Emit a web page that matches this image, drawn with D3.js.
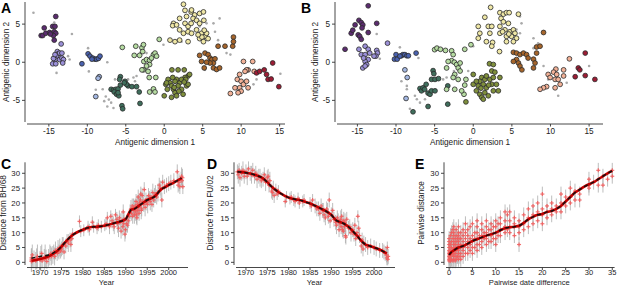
<!DOCTYPE html>
<html><head><meta charset="utf-8">
<script src="https://cdn.jsdelivr.net/npm/d3@7"></script>
<style>
html,body{margin:0;padding:0;background:#fff;}
svg{display:block;font-family:"Liberation Sans",Arial,Helvetica,sans-serif;}
</style></head>
<body><svg id="c" width="617" height="287"></svg>
<script>
// ---------- Panel A data (antigenic map, clusters) ----------
const A_purple = [[-15.6,4.5],[-16.0,3.5],[-15.8,3.5],[-15.4,3.8],[-14.9,3.9],[-14.5,4.7],[-14.2,4.7],[-14.1,6.0],[-14.3,4.0],[-14.1,3.8],[-14.4,3.5],[-14.3,2.9],[-14.8,3.7]];
const A_lavender = [[-13.4,2.4],[-13.9,1.4],[-13.8,1.1],[-14.0,0.8],[-14.2,0.35],[-14.4,0.5],[-14.5,-0.2],[-14.1,-0.2],[-13.6,0.35],[-13.3,0.55],[-13.1,0.35],[-13.2,-0.1],[-13.6,1.2],[-13.3,1.2],[-14.2,1.0]];
const A_blue = [[-10.7,-0.2],[-9.9,1.1],[-9.65,0.8],[-9.3,0.55],[-9.0,0.4],[-8.8,0.4],[-8.55,0.5],[-8.35,0.8],[-9.4,0.4]];
const A_lightblue = [[-8.45,-1.9],[-8.6,-2.1],[-8.9,-4.5]];
const A_teal = [[-5.7,-1.9],[-5.8,-2.25],[-6.9,-3.55],[-6.6,-3.65],[-6.3,-3.55],[-6.0,-3.5],[-6.5,-3.9],[-6.2,-4.2],[-5.9,-4.4],[-6.0,-4.0],[-5.1,-2.5],[-4.7,-3.1],[-4.9,-2.9],[-4.2,-3.2],[-3.6,-3.2],[-3.25,-3.9],[-3.15,-5.4],[-5.5,-5.7],[-5.4,-6.1],[-5.2,-2.7],[-5.7,-3.0]];
const A_lightgreen = [[-5.45,1.95],[-3.7,2.1],[-3.9,0.9],[-2.9,1.9],[-2.7,2.3],[-2.8,1.4],[-3.2,0.9],[-2.65,0.1],[-2.3,0.35],[-1.9,0.25],[-1.4,1.0],[-1.2,1.2],[-1.0,0.8],[-1.65,0.55],[-1.9,-0.3],[-2.3,-0.5],[-2.7,-1.0],[-2.1,-1.2],[-1.1,-2.0],[-1.4,-3.5],[-1.2,-3.9],[-1.9,-3.9],[-1.95,-2.0],[-0.65,3.0],[-2.9,-1.0]];
const A_olive = [[0.0,-4.4],[1.0,-1.0],[1.8,-1.0],[2.6,-1.0],[0.5,-2.25],[0.75,-2.7],[0.2,-2.9],[0.95,-3.1],[1.2,-3.55],[1.4,-4.0],[0.95,-4.6],[1.6,-4.4],[2.0,-2.7],[2.25,-3.55],[2.45,-4.2],[2.9,-3.1],[3.1,-1.8],[3.3,-1.6],[2.7,-2.0],[1.6,-2.25],[1.4,-2.5],[1.8,-3.1],[2.25,-2.25],[2.8,-2.25],[3.1,-2.9],[0.4,-3.55],[0.3,-2.7],[1.1,-2.0],[1.9,-3.8],[2.6,-2.6],[1.3,-3.3]];
const A_yellow = [[2.5,7.6],[2.7,6.8],[3.5,6.6],[3.95,6.2],[4.6,6.4],[5.1,6.6],[3.75,5.75],[2.9,6.0],[2.0,5.75],[1.2,5.1],[1.1,4.8],[1.6,4.9],[2.7,5.1],[3.1,4.7],[3.5,5.1],[4.2,5.5],[4.6,5.1],[5.15,5.5],[2.0,4.25],[2.5,3.8],[3.1,4.0],[3.55,3.8],[4.2,4.25],[4.85,3.8],[5.3,3.4],[4.6,3.1],[5.1,2.7],[5.5,3.8],[5.7,3.1],[0.75,2.9],[1.4,2.7],[2.0,2.9],[3.1,2.7],[3.55,6.85],[4.9,3.3],[5.2,4.2],[4.4,3.6]];
const A_brown = [[4.6,0.9],[4.85,0.1],[5.3,1.2],[5.7,1.0],[5.95,0.55],[6.2,0.35],[6.4,-0.1],[5.95,-0.1],[5.5,0.0],[6.4,-0.75],[6.8,-0.95],[7.2,-0.75],[5.2,-0.75],[7.0,2.1],[7.9,2.1],[8.9,2.1],[9.0,3.3],[9.0,2.7],[6.6,0.45]];
const A_peach = [[10.3,0.1],[10.9,-1.0],[10.7,-1.0],[10.5,-1.2],[11.7,-1.2],[11.5,0.1],[9.8,-1.6],[9.5,-2.25],[10.0,-2.5],[10.3,-2.9],[9.8,-3.35],[10.0,-3.8],[9.6,-4.0],[8.6,-4.1],[10.7,-2.5],[10.9,-3.35],[9.2,-3.35]];
const A_darkred = [[12.0,-1.4],[12.4,-1.2],[13.0,-1.0],[13.5,-2.25],[14.1,-0.1],[13.9,-2.2],[14.9,-3.2],[13.3,-1.6]];
const A_grey = [[-17.0,6.5],[-14.3,5.2],[-12.0,3.7],[-12.5,0.8],[-12.3,0.35],[-14.0,-1.4],[-9.9,1.85],[-9.8,-1.2],[-7.4,0],[-8.0,-3.55],[-7.6,-4.5],[-7.2,-4.9],[-7.8,-5.1],[-7.4,-5.8],[-6.6,-6.0],[-6.4,-2.25],[-4.7,-2.25],[-4.0,-2.0],[-3.8,-2.5],[-3.6,-1.8],[-3.1,1.2],[-2.3,1.2],[-0.1,2.3],[0.9,-1.0],[2.25,2.7],[4.6,4.7],[5.5,5.1],[6.4,5.1],[7.2,5.75],[6.6,4.0],[7.0,2.9],[8.1,1.2],[8.6,1.0],[5.3,-1.0],[11.6,-2.9],[12.0,-2.25],[15.1,-1.5],[-8.9,-3.6],[-6.9,-5.3]];

// ---------- Panel B data ----------
const B_purple = [[-16.6,1.7],[-15.8,3.8],[-15.6,4.2],[-15.3,4.9],[-14.8,5.5],[-14.5,5.2],[-14.3,4.9],[-14.4,4.5],[-14.9,3.6],[-14.7,3.4],[-14.5,3.0],[-13.6,7.4],[-13.6,3.9],[-12.5,5.1]];
const B_lavender = [[-14.8,1.7],[-14.0,2.1],[-13.6,1.7],[-14.5,1.0],[-14.0,1.0],[-13.4,1.2],[-12.5,1.55],[-12.4,1.2],[-12.6,0.8],[-12.85,0.8],[-13.6,0.35],[-14.0,0.1],[-13.8,-0.3],[-14.3,-0.75],[-14.0,-0.5],[-11.1,2.5],[-14.2,0.55]];
const B_blue = [[-10.0,1.0],[-10.2,0.4],[-9.85,0.4],[-9.3,0.85],[-9.1,1.0],[-8.85,1.0],[-8.6,0.85],[-8.4,0.85],[-7.4,1.2],[-9.5,0.8]];
const B_lightblue = [[-8.85,-1.0],[-8.55,-2.0],[-8.7,-4.75]];
const B_teal = [[-7.8,-6.5],[-6.9,-3.45],[-6.7,-3.75],[-6.5,-3.35],[-6.1,-2.9],[-5.85,-4.05],[-5.6,-4.2],[-5.4,-3.75],[-5.2,-1.1],[-5.1,-1.5],[-5.4,-2.25],[-4.95,-2.25],[-5.85,-5.8],[-4.5,-2.15],[-4.95,-3.75],[-3.3,-5.5],[-3.3,-3.1],[-6.3,-3.55]];
const B_lightgreen = [[-5.0,1.65],[-4.7,1.85],[-4.25,1.7],[-3.6,1.55],[-2.8,1.5],[-2.6,1.0],[-2.8,0.2],[-2.45,0],[-2.15,-0.3],[-1.95,-0.75],[-1.7,-1.15],[-2.4,-1.6],[-2.6,-2.0],[-1.95,-2.25],[-3.25,0.1],[-3.45,-0.75],[-1.7,-0.1],[-0.95,-2.25],[-1.1,-3.0],[-1.2,-4.2],[-0.3,2.3],[-1.1,1.7],[-3.45,-3.55],[-2.4,-3.55],[-1.5,-3.75]];
const B_olive = [[-0.95,-5.2],[0,-1.6],[1.1,-2.0],[0.85,-2.5],[1.3,-2.9],[0.65,-3.1],[0.4,-3.75],[0.85,-4.2],[1.1,-4.6],[1.5,-4.0],[1.7,-3.35],[2.15,-2.25],[2.4,-2.9],[1.95,-4.4],[2.6,-3.75],[3.0,-2.9],[3.45,-2.0],[2.4,-1.15],[2.8,-1.3],[2.1,-0.2],[2.6,-0.3],[1.5,-2.25],[1.7,-1.8],[2.6,-2.0],[3.25,-3.75],[1.3,-4.85],[0,-2.9],[0.4,-2.5],[1.0,-3.4],[2.0,-3.0]];
const B_yellow = [[2.25,7.2],[3.45,6.5],[3.9,6.3],[4.3,6.5],[4.65,6.5],[5.85,6.3],[1.5,5.9],[3.6,5.75],[3.9,5.3],[4.55,5.1],[0.65,4.7],[0.85,3.8],[1.95,4.7],[2.4,4.7],[2.15,3.8],[3.45,4.7],[4.1,4.25],[4.75,4.0],[5.2,4.25],[5.4,3.8],[3.45,3.8],[4.3,3.4],[4.95,3.4],[5.6,3.15],[1.7,2.7],[2.5,2.6],[2.4,2.1],[3.4,1.4],[4.3,2.7],[5.2,2.7],[0.65,3.15],[3.8,4.0],[4.6,3.7]];
const B_brown = [[5.2,1.3],[5.6,1.2],[6.05,1.0],[6.5,1.2],[6.9,1.0],[5.6,0.35],[5.85,-0.1],[6.05,-0.5],[6.3,-1.0],[5.2,0.1],[7.8,0.4],[8.0,-0.1],[7.8,-0.75],[8.2,2.0],[8.65,2.1],[9.1,3.9],[8.2,1.2],[7.1,0.55]];
const B_peach = [[12.45,0.45],[10.7,-0.9],[11.7,-1.0],[10.4,-1.3],[9.7,-1.6],[10.8,-1.6],[9.95,-2.0],[10.6,-2.25],[11.0,-2.25],[11.25,-2.9],[10.6,-3.35],[9.5,-3.2],[9.1,-3.35],[8.65,-3.55],[11.7,-1.8]];
const B_darkred = [[14.5,1.2],[13.6,-0.75],[13.8,-1.0],[13.2,-1.9],[14.5,-1.75],[15.75,-2.25]];
const B_grey = [[-12.5,3.7],[-12.1,0.45],[-9.5,1.95],[-7.1,0.55],[-8.6,-3.1],[-8.6,-3.55],[-7.55,-4.4],[-7.3,-4.85],[-8.2,-6.1],[-6.9,-5.3],[-6.25,-4.85],[-3.9,-2.25],[-3.45,-2.0],[-2.5,-1.15],[-0.65,-1.15],[0,2.1],[6.05,6.0],[6.25,5.1],[5.6,4.3],[6.05,3.8],[7.8,3.15],[8.4,2.5],[7.8,1.85],[9.7,-2.25],[11.0,-4.4],[12.1,-2.7],[15.0,-0.5],[9.1,-0.5],[-9.3,-2.5]];

const clusterColors = ["#5b2c6f","#9b90d8","#4a62b0","#a3b7e2","#3f6e5c","#b6dca2","#7f8f3c","#efe7a6","#a6652b","#f2b197","#9c1c34"];

// ---------- Panel C data: [year, distance, half error] ----------
const C_points = [[1968,0.3,3.5],[1968,0.8,4],[1968,1.5,3],[1968.2,2.5,3.5],[1968.3,0.5,2.5],[1968.6,1.0,3],[1969,0.5,3],[1969.2,1.2,3.5],[1969.4,2.0,4],[1970,0.8,3],[1970.2,1.5,4],[1970.4,3.0,3],[1970.5,0.5,2.5],[1971,1.0,3.5],[1971.2,2.0,4],[1971.4,1.3,3],[1971.6,0.3,2.5],[1972,1.5,3],[1972.3,2.5,3.5],[1972.5,3.0,2.5],[1972.7,2.0,3],[1973,2.5,3],[1973.2,3.5,2.5],[1973.4,2.0,3],[1973.6,4.0,3],[1974,3.0,2.5],[1974.2,4.5,3],[1974.4,3.5,2.5],[1974.6,5.0,3],[1974.8,3.8,2.5],[1975,4.5,2.5],[1975.2,5.5,3],[1975.4,6.0,2.5],[1975.6,3.5,2.5],[1976,5.5,2.5],[1976.3,7.0,2.5],[1976.6,6.5,3],[1977,7.5,2.5],[1977.2,6.0,2.5],[1977.4,8.0,2],[1977.6,9.5,2],[1979.2,13.8,2],[1979.5,10.5,2],[1980.2,10.8,2],[1981.2,12.0,2],[1981.5,11.0,2],[1982.2,13.5,2],[1982.5,12.0,2],[1983.3,11.5,2],[1983.6,12.5,2],[1984.3,12.0,2],[1985.1,12.5,2],[1985.4,13.0,2],[1985.7,15.0,2],[1986.2,12.0,2.5],[1986.5,15.5,2],[1986.8,14.0,2.5],[1987.1,13.0,2.5],[1987.3,12.0,2.5],[1987.6,16.0,2],[1987.9,14.5,2.5],[1988.1,13.0,3],[1988.3,11.5,3],[1988.5,15.0,2.5],[1988.7,13.5,3],[1988.9,10.5,2.5],[1989.1,14.0,3],[1989.3,12.0,3],[1989.4,17.0,2.5],[1989.5,13.0,3],[1989.6,14.5,2.5],[1989.8,9.5,2.5],[1989.9,11.0,3],[1990.2,13.0,3],[1990.4,12.5,2.5],[1990.6,14.0,2.5],[1990.8,15.5,2.5],[1991,17.0,2.5],[1991.2,18.0,3],[1991.3,16.5,2.5],[1991.5,19.0,2.5],[1991.6,15.5,2.5],[1991.8,18.5,3],[1991.9,17.5,2.5],[1992,16.0,3],[1992.1,18.0,3],[1992.2,19.0,2.5],[1992.3,17.0,3],[1992.4,20.5,2.5],[1992.5,16.0,3],[1992.6,15.0,2.5],[1992.7,19.5,3],[1992.8,17.5,2.5],[1992.9,22.0,2.5],[1993,18.5,3],[1993.1,16.5,2.5],[1993.2,20.0,3],[1993.3,19.0,2.5],[1993.4,21.0,3],[1993.5,23.0,2.5],[1993.6,17.5,3],[1993.7,18.0,2.5],[1993.8,22.5,2.5],[1994,20.5,3],[1994.2,19.5,2.5],[1994.3,24.5,2.5],[1994.5,18.5,3],[1994.7,21.0,2.5],[1994.9,20.0,2.5],[1995.1,19.5,3],[1995.3,22.5,2.5],[1995.5,21.5,2.5],[1995.7,20.5,3],[1995.9,22.0,2.5],[1996.1,19.5,2.5],[1996.3,23.5,3],[1996.5,21.0,2.5],[1996.7,22.5,2.5],[1996.9,23.0,3],[1997.2,22.0,2.5],[1997.5,23.5,3],[1997.8,26.0,2.5],[1998,25.0,2.5],[1998.2,24.5,3],[1998.4,21.0,2.5],[1998.6,27.0,2.5],[1999,25.5,2.5],[1999.5,26.0,2.5],[2000,26.5,2.5],[2000.5,27.0,2.5],[2001.2,27.5,2.5],[2002,30.5,2.5],[2002.2,26.0,2.5],[2002.4,27.0,3],[2002.6,25.5,2.5],[2002.9,28.0,2.5],[2003,29.0,3],[2003.1,27.5,2.5],[2003.2,28.5,3],[2003.3,25.5,2.5]];
const C_lineRed = [[1968,0.5],[1969,0.8],[1970,1.1],[1971,1.5],[1972,2.0],[1973,2.8],[1974,3.8],[1975,5.3],[1976,7.0],[1977,8.5],[1978,9.6],[1979,10.4],[1980,11.0],[1981,11.6],[1982,11.9],[1983,12.0],[1984,12.1],[1985,12.3],[1986,12.7],[1987,13.1],[1988,13.5],[1989,13.9],[1990,14.6],[1990.7,16.5],[1991.3,17.8],[1992,18.0],[1993,19.0],[1994,20.0],[1995,21.0],[1996,21.6],[1997,22.5],[1998,24.3],[1999,25.2],[2000,26.0],[2001,26.7],[2002,27.5],[2003,28.4]];
const C_lineBlack = [[1968,1.4],[1969,1.7],[1970,2.0],[1971,2.2],[1972,2.5],[1973,3.1],[1974,4.0],[1975,5.3],[1976,7.0],[1977,8.5],[1978,9.6],[1979,10.4],[1980,11.0],[1981,11.6],[1982,11.9],[1983,12.0],[1984,12.1],[1985,12.3],[1986,12.7],[1987,13.1],[1988,13.5],[1989,13.9],[1990,14.6],[1990.7,16.5],[1991.3,17.8],[1992,18.0],[1993,19.0],[1994,20.0],[1995,21.0],[1996,21.6],[1997,22.5],[1998,24.3],[1999,25.2],[2000,26.0],[2001,26.7],[2002,27.5],[2003,28.4]];

// ---------- Panel D data ----------
const D_points = [[1968,30.5,2.5],[1968.2,29.5,3],[1968.4,31.0,2.5],[1968.6,28.5,3],[1969,30.0,2.5],[1969.3,31.0,3],[1969.6,29.0,2.5],[1970,30.5,2.5],[1970.3,29.0,3],[1970.6,31.5,2.5],[1971,30.0,2.5],[1971.3,29.5,3],[1971.6,31.0,2.5],[1972,29.0,2.5],[1972.3,30.0,2.5],[1972.6,28.0,3],[1973,29.0,2.5],[1973.3,28.5,3],[1973.6,27.5,2.5],[1974,28.0,2.5],[1974.3,29.5,2.5],[1974.6,27.0,3],[1975,28.5,2.5],[1975.2,29.0,2.5],[1975.4,26.0,2.5],[1975.6,27.5,3],[1976,24.0,2.5],[1976.2,23.5,2.5],[1976.4,25.0,2.5],[1976.6,22.5,2.5],[1977,24.5,2],[1977.3,23.0,2],[1977.6,24.0,2],[1979.2,20.5,2],[1979.5,22.0,2],[1980.3,21.5,2],[1980.6,22.0,2],[1981.2,21.0,2],[1981.5,20.5,2],[1982.2,21.5,2],[1982.5,20.0,2],[1983.3,20.5,2],[1983.6,21.0,2],[1985,20.0,2],[1985.3,19.0,2],[1985.6,21.0,2],[1986.2,19.0,2.5],[1986.6,18.0,2.5],[1987,18.0,2.5],[1987.3,16.5,2.5],[1987.6,19.0,2.5],[1987.9,17.5,2.5],[1988.1,17.5,2.5],[1988.3,16.0,2.5],[1988.6,15.0,2.5],[1988.9,18.0,2.5],[1989.1,17.0,3],[1989.3,15.5,2.5],[1989.5,21.0,2.5],[1989.7,14.0,2.5],[1990,16.0,2.5],[1990.3,17.5,2.5],[1990.6,14.5,2.5],[1991,13.5,2.5],[1991.2,12.5,3],[1991.4,15.0,2.5],[1991.6,14.0,2.5],[1991.8,11.0,2.5],[1992,13.0,2.5],[1992.2,14.5,3],[1992.3,12.0,2.5],[1992.4,15.5,2.5],[1992.6,11.0,2.5],[1992.7,13.5,2.5],[1992.8,10.5,2.5],[1992.9,14.0,3],[1993.1,12.0,2.5],[1993.2,13.5,3],[1993.3,9.0,2.5],[1993.4,8.5,2.5],[1993.6,14.5,2.5],[1994,11.5,2.5],[1994.3,12.0,2.5],[1994.6,10.0,3],[1995,11.0,2.5],[1995.3,9.5,2.5],[1995.5,12.5,2.5],[1995.7,8.0,2.5],[1996,10.0,2.5],[1996.2,15.5,2],[1996.4,11.5,2.5],[1996.6,9.0,2.5],[1997,5.5,2.5],[1997.2,7.5,2.5],[1997.4,4.5,2.5],[1997.6,6.5,2.5],[1998,6.0,2.5],[1998.5,5.0,2.5],[1999.2,5.5,2.5],[2000,5.0,2.5],[2000.5,4.5,2.5],[2001.3,4.0,2.5],[2002,4.0,2.5],[2002.3,3.5,2.5],[2002.6,3.0,2.5],[2002.9,2.5,2.5],[2003,1.5,2.5],[2003.1,5.0,2],[2003.2,1.0,2],[2003.3,2.0,2.5]];
const D_line = [[1968,30.5],[1969,30.4],[1970,30.2],[1971,29.9],[1972,29.5],[1973,29.0],[1974,28.3],[1975,27.0],[1976,25.5],[1977,24.3],[1978,23.3],[1979,22.5],[1980,21.8],[1981,21.4],[1982,21.1],[1983,20.8],[1984,20.3],[1985,19.8],[1986,19.2],[1987,18.5],[1988,17.8],[1989,17.0],[1990,16.0],[1991,14.3],[1992,13.6],[1993,13.0],[1994,12.0],[1995,10.5],[1996,9.0],[1997,7.2],[1998,6.0],[1999,5.5],[2000,5.0],[2001,4.5],[2002,3.8],[2003,3.0]];

// ---------- Panel E data ----------
const E_points = [[0,0.5],[0,1],[0,2],[0,3],[0,4],[0,5],[0,6],[0,7],[0,8],[0.05,1.5],[0.05,2.5],[0.05,3.5],[0.3,0.5],[0.3,2],[0.3,4],[0.3,6],[0.3,9],[0.5,1],[0.5,3],[0.5,5],[0.5,7],[0.5,10],[0.8,0.5],[0.8,2.5],[0.8,4.5],[0.8,8],[0.8,11],[1,1],[1,2],[1,3],[1,4],[1,5],[1,6],[1,7],[1,9],[1,10],[1,12],[1.3,0.5],[1.3,3],[1.3,6],[1.3,8],[1.5,1],[1.5,2],[1.5,4],[1.5,5],[1.5,7],[1.5,9],[1.5,11],[1.8,2],[1.8,5],[1.8,8],[2,1],[2,3],[2,4],[2,6],[2,7],[2,9],[2,10],[2,12],[2.3,2],[2.3,5],[2.3,8],[2.5,1],[2.5,3],[2.5,5],[2.5,6],[2.5,8],[2.5,10],[3,2],[3,4],[3,5],[3,7],[3,9],[3,11],[3.5,3],[3.5,6],[3.5,8],[3.5,10],[3.5,13],[4,3],[4,5],[4,7],[4,9],[4,11],[4.5,4],[4.5,6],[4.5,8],[4.5,12],[5,3],[5,5],[5,7],[5,9],[5,13],[5.5,5],[5.5,8],[5.5,10],[6,4],[6,6],[6,8],[6,10],[6,12],[6,14],[6.5,6],[6.5,9],[7,5],[7,7],[7,9],[7,11],[7,13],[7.5,8],[7.5,10],[8,6],[8,8],[8,10],[8,12],[8,14],[8.5,7],[8.5,11],[9,7],[9,9],[9,11],[9,13],[9.5,8],[9.5,12],[10,6],[10,8],[10,10],[10,12],[10,14],[10.5,9],[10.5,13],[11,9],[11,11],[11,13],[11,15],[12,10],[12,12],[12,14],[12,17],[12.5,11],[12.5,16],[13,10],[13,12],[13,14],[13,17],[14,9],[14,12],[14,13],[14,15],[15,6],[15,10],[15,12],[15,14],[16,11],[16,13],[16,16],[17,12],[17,15],[17,18],[18,13],[18,16],[18,19],[19,14],[19,17],[19,20],[20,13],[20,16],[20,23],[20,18],[21,15],[21,17],[21,19],[22,16],[22,18],[22,20],[23,17],[23,19],[24,17],[24,20],[24,23],[25,19],[25,22],[26,22],[26,25],[26,20],[27,21],[27,24],[28,23],[28,21],[30,26],[30,28],[30,25],[31,27],[32,31],[32,26],[33,26],[33,29],[34,28],[35,29],[35,31]];
const E_line = [[0,2.5],[0.5,3.5],[1,4],[2,5],[3,5.5],[4,6.3],[5,7.2],[6,7.8],[7,8.4],[8,9],[9,9.5],[10,10],[11,10.8],[12,11.5],[13,11.8],[14,12],[15,12.3],[16,13.3],[17,14.5],[18,15.3],[19,16],[20,16.3],[21,17],[22,17.3],[23,18],[24,19],[25,20.5],[26,22],[27,23.5],[28,24.5],[29,25.5],[30,26.3],[31,27],[32,28],[33,29],[34,30],[35,30.8]];

const mapXTicks = [-15,-10,-5,0,5,10,15];
const mapYTicks = [-5,0,5];
const yearTicks = [1970,1975,1980,1985,1990,1995,2000];
const distTicks = [0,5,10,15,20,25,30];
const diffTicks = [0,5,10,15,20,25,30,35];

// ---------- drawing ----------
const svg = d3.select("#c");
const FONT = 8.2;

function axisLeft(g, y, ticks, x0, yTop, yBot, fs){
  g.append("line").attr("x1",x0).attr("x2",x0).attr("y1",yTop).attr("y2",yBot).attr("stroke","#333").attr("stroke-width",0.9);
  ticks.forEach(t=>{
    g.append("line").attr("x1",x0-3).attr("x2",x0).attr("y1",y(t)).attr("y2",y(t)).attr("stroke","#333").attr("stroke-width",0.9);
    g.append("text").attr("x",x0-5).attr("y",y(t)+3).attr("text-anchor","end").attr("font-size",fs).attr("fill","#222").text(t);
  });
}
function axisBottom(g, x, ticks, y0, xL, xR, lblOff, fs){
  g.append("line").attr("x1",xL).attr("x2",xR).attr("y1",y0).attr("y2",y0).attr("stroke","#333").attr("stroke-width",0.9);
  ticks.forEach(t=>{
    g.append("line").attr("x1",x(t)).attr("x2",x(t)).attr("y1",y0).attr("y2",y0+2.5).attr("stroke","#333").attr("stroke-width",0.9);
    g.append("text").attr("x",x(t)).attr("y",y0+lblOff).attr("text-anchor","middle").attr("font-size",fs).attr("fill","#222").text(t);
  });
}
function panelLabel(t,x,y){
  svg.append("text").attr("x",x).attr("y",y).attr("font-size",14).attr("font-weight","bold").attr("fill","#000").text(t);
}
function yTitle(t,x,y){
  svg.append("text").attr("transform",`translate(${x},${y}) rotate(-90)`).attr("text-anchor","middle").attr("font-size",FONT).attr("fill","#222").text(t);
}
function xTitle(t,x,y,fs){
  svg.append("text").attr("x",x).attr("y",y).attr("text-anchor","middle").attr("font-size",fs).attr("fill","#222").text(t);
}

function mapPanel(xd, xr, clusters, greys, label, lx, ytx, xtx){
  const x = d3.scaleLinear().domain(xd).range(xr);
  const y = d3.scaleLinear().domain([-8.1,7.9]).range([124,2]);
  const g = svg.append("g");
  g.selectAll(".gr").data(greys).enter().append("circle")
    .attr("cx",d=>x(d[0])).attr("cy",d=>y(d[1])).attr("r",1.3).attr("fill","#a9a9a9");
  clusters.forEach((pts,i)=>{
    g.append("g").selectAll("circle").data(pts).enter().append("circle")
      .attr("cx",d=>x(d[0])).attr("cy",d=>y(d[1])).attr("r",2.4)
      .attr("fill",clusterColors[i]).attr("stroke","#2a2a2a").attr("stroke-width",0.8);
  });
  axisLeft(g, y, mapYTicks, xr[0], 2, 122, FONT);
  axisBottom(g, x, mapXTicks, 124, xr[0]+2, xr[1], 10, FONT);
  panelLabel(label, lx, 13);
  yTitle("Antigenic dimension 2", ytx, 62);
  xTitle("Antigenic dimension 1", xtx, 145, FONT);
}

mapPanel([-18.1,15.7],[25,285],[A_purple,A_lavender,A_blue,A_lightblue,A_teal,A_lightgreen,A_olive,A_yellow,A_brown,A_peach,A_darkred],A_grey,"A",1,9,155);
mapPanel([-17.9,16.8],[335,603],[B_purple,B_lavender,B_blue,B_lightblue,B_teal,B_lightgreen,B_olive,B_yellow,B_brown,B_peach,B_darkred],B_grey,"B",301,318,470);

function seriesPanel(xd, xr, xticks, pts, lines, label, lx, ytl, ytx, xtl, defaultErr){
  const x = d3.scaleLinear().domain(xd).range(xr);
  const y = d3.scaleLinear().domain([-1,33.7]).range([265.3,162.3]);
  const g = svg.append("g");
  g.append("g").selectAll("line").data(pts).enter().append("line")
    .attr("x1",d=>x(d[0])).attr("x2",d=>x(d[0]))
    .attr("y1",d=>y(d[1]-(d[2]||defaultErr))).attr("y2",d=>y(d[1]+(d[2]||defaultErr)))
    .attr("stroke","#b3b3b3").attr("stroke-width",1).attr("opacity",0.85);
  const cr = g.append("g").selectAll("g").data(pts).enter().append("g")
    .attr("transform",d=>`translate(${x(d[0])},${y(d[1])})`);
  cr.append("line").attr("x1",-2).attr("x2",2).attr("stroke","#f25f5f").attr("stroke-width",1.2).attr("opacity",0.9);
  cr.append("line").attr("y1",-2).attr("y2",2).attr("stroke","#f25f5f").attr("stroke-width",1.2).attr("opacity",0.9);
  const ln = d3.line().x(d=>x(d[0])).y(d=>y(d[1])).curve(d3.curveMonotoneX);
  g.append("path").attr("d",ln(lines.red)).attr("fill","none").attr("stroke","#c40000").attr("stroke-width",2.6);
  g.append("path").attr("d",ln(lines.black)).attr("fill","none").attr("stroke","#111").attr("stroke-width",1.5).attr("stroke-dasharray","4,3");
  axisLeft(g, y, distTicks, xr[0], 162.3, 265, 7.8);
  axisBottom(g, x, xticks, 267.5, xr[0]+2, xr[1], 7.8, 7.5);
  panelLabel(label, lx, 169);
  yTitle(ytl, ytx, 213);
  xTitle(xtl, (xr[0]+xr[1])/2, 285.3, 7.6);
}

seriesPanel([1966.5,2004.5],[25,188],yearTicks,C_points,{red:C_lineRed,black:C_lineBlack},"C",1,"Distance from BH/68",6,"Year",2.5);
seriesPanel([1967.2,2004.9],[234,395],yearTicks,D_points,{red:D_line,black:D_line},"D",207,"Distance from FU/02",213,"Year",2.5);
seriesPanel([-1.1,35.5],[444,614.6],diffTicks,E_points,{red:E_line,black:E_line},"E",415,"Pairwise distance",424,"Pairwise date difference",2.5);
</script></body></html>
